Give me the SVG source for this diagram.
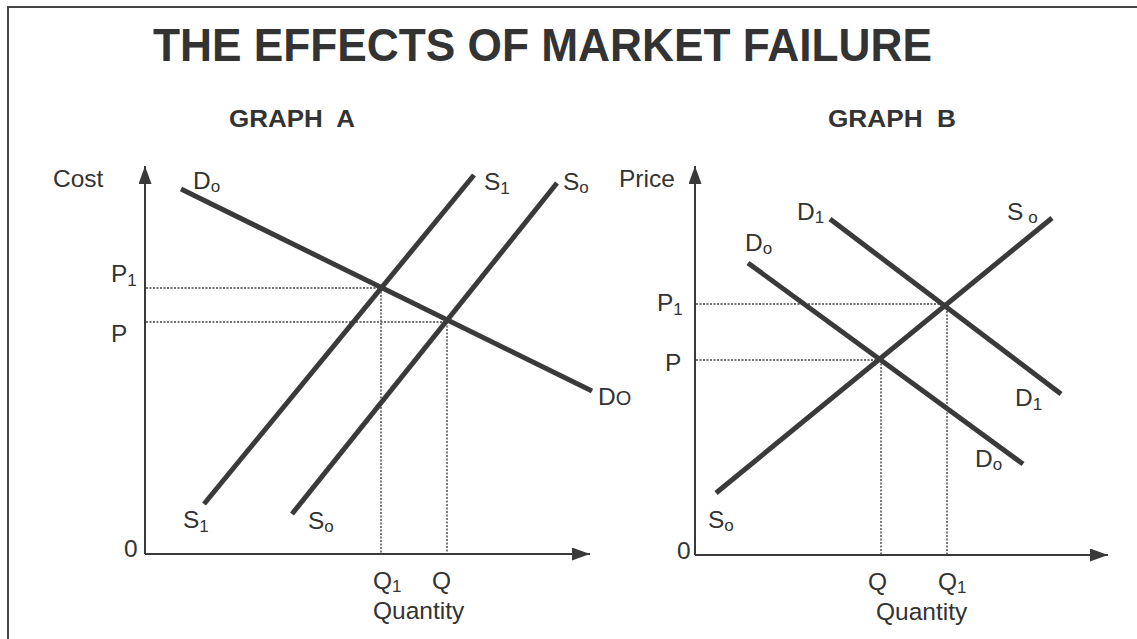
<svg xmlns="http://www.w3.org/2000/svg" width="1137" height="639" viewBox="0 0 1137 639">
<defs>
<marker id="arr" markerUnits="userSpaceOnUse" markerWidth="20" markerHeight="14" refX="18" refY="6.5" orient="auto">
<path d="M0,0 L18,6.5 L0,13 z" fill="#3a3a3a"/>
</marker>
<style>
text{font-family:"Liberation Sans",Arial,sans-serif;fill:#333;}
.lbl{font-size:24.5px;}
.sub{font-size:17px;}
.hd{font-weight:bold;font-size:24px;}
.axis{stroke:#3a3a3a;stroke-width:2;fill:none;marker-end:url(#arr);}
.curve{stroke:#3a3a3a;stroke-width:5;fill:none;stroke-linecap:butt;}
.dot{stroke:#444;stroke-width:1.4;fill:none;stroke-dasharray:2 1.5;}
</style>
</defs>
<rect width="1137" height="639" fill="#fff"/>
<path d="M8,639 L8,7 L1137,7" fill="none" stroke="#444" stroke-width="2"/>
<text id="title" x="153" y="61" font-size="46" font-weight="bold" textLength="779" lengthAdjust="spacingAndGlyphs">THE EFFECTS OF MARKET FAILURE</text>

<g id="graphA">
<text class="hd" x="229" y="127" textLength="126" lengthAdjust="spacingAndGlyphs" xml:space="preserve">GRAPH  A</text>
<g id="A-axes">
<line class="axis" x1="145" y1="554" x2="145" y2="166"/>
<line class="axis" x1="145" y1="554" x2="590" y2="554"/>
</g>
<g id="A-guides">
<line class="dot" x1="146" y1="288" x2="381" y2="288"/>
<line class="dot" x1="146" y1="322" x2="446" y2="322"/>
<line class="dot" x1="381" y1="288" x2="381" y2="553"/>
<line class="dot" x1="447" y1="322" x2="447" y2="553"/>
</g>
<g id="A-curves">
<line id="A-D0" class="curve" x1="181" y1="189" x2="592" y2="391"/>
<line id="A-S1" class="curve" x1="204" y1="504" x2="474" y2="175"/>
<line id="A-S0" class="curve" x1="292" y1="514" x2="557" y2="183"/>
</g>
<g id="A-labels">
<text class="lbl" x="53" y="187">Cost</text>
<text class="lbl" x="193" y="189">D<tspan class="sub" dy="3">o</tspan></text>
<text class="lbl" x="111" y="282">P<tspan class="sub" dy="4">1</tspan></text>
<text class="lbl" x="111" y="342">P</text>
<text class="lbl" x="124" y="557">0</text>
<text class="lbl" x="484" y="190">S<tspan class="sub" dy="4">1</tspan></text>
<text class="lbl" x="563" y="190">S<tspan class="sub" dy="3">o</tspan></text>
<text class="lbl" x="598" y="405">D<tspan font-size="20">O</tspan></text>
<text class="lbl" x="183" y="528">S<tspan class="sub" dy="4">1</tspan></text>
<text class="lbl" x="308" y="529">S<tspan class="sub" dy="3">o</tspan></text>
<text class="lbl" x="373" y="589">Q<tspan class="sub" dy="3">1</tspan></text>
<text class="lbl" x="432" y="589">Q</text>
<text class="lbl" x="373" y="619">Quantity</text>
</g>
</g>

<g id="graphB">
<text class="hd" x="828" y="127" textLength="128" lengthAdjust="spacingAndGlyphs" xml:space="preserve">GRAPH  B</text>
<g id="B-axes">
<line class="axis" x1="695" y1="555" x2="695" y2="166"/>
<line class="axis" x1="695" y1="555" x2="1108" y2="555"/>
</g>
<g id="B-guides">
<line class="dot" x1="696" y1="304" x2="946" y2="304"/>
<line class="dot" x1="696" y1="360" x2="880" y2="360"/>
<line class="dot" x1="881" y1="360" x2="881" y2="554"/>
<line class="dot" x1="947" y1="304" x2="947" y2="554"/>
</g>
<g id="B-curves">
<line id="B-D1" class="curve" x1="830" y1="219" x2="1061" y2="394"/>
<line id="B-D0" class="curve" x1="748" y1="263" x2="1023" y2="464"/>
<line id="B-S0" class="curve" x1="716" y1="493" x2="1052" y2="218"/>
</g>
<g id="B-labels">
<text class="lbl" x="619" y="187">Price</text>
<text class="lbl" x="797" y="220">D<tspan class="sub" dy="3">1</tspan></text>
<text class="lbl" x="745" y="251">D<tspan class="sub" dy="3">o</tspan></text>
<text class="lbl" x="1007" y="220">S<tspan class="sub" dx="5" dy="3">o</tspan></text>
<text class="lbl" x="657" y="311">P<tspan class="sub" dy="4">1</tspan></text>
<text class="lbl" x="665" y="371">P</text>
<text class="lbl" x="1015" y="406">D<tspan class="sub" dy="4">1</tspan></text>
<text class="lbl" x="975" y="467">D<tspan class="sub" dy="3">o</tspan></text>
<text class="lbl" x="708" y="528">S<tspan class="sub" dy="3">o</tspan></text>
<text class="lbl" x="677" y="559">0</text>
<text class="lbl" x="868" y="590">Q</text>
<text class="lbl" x="938" y="590">Q<tspan class="sub" dy="3">1</tspan></text>
<text class="lbl" x="876" y="620">Quantity</text>
</g>
</g>
</svg>
